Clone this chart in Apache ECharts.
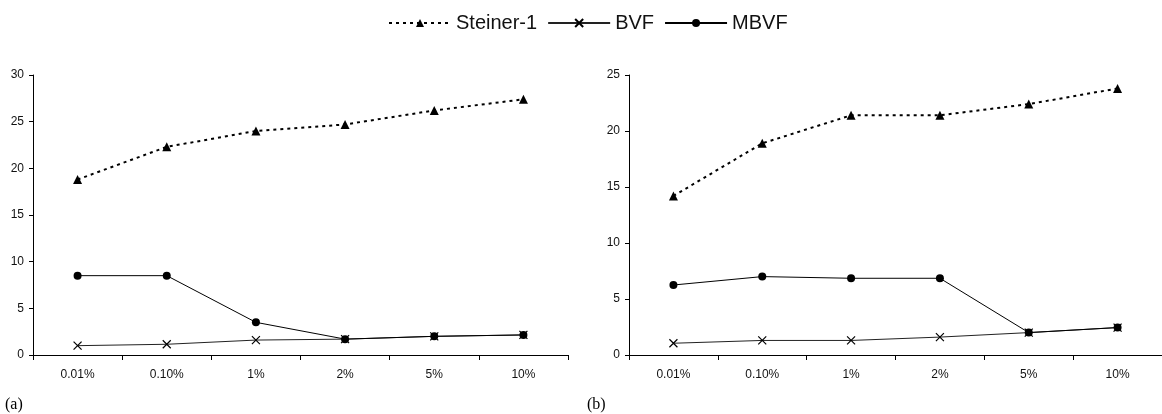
<!DOCTYPE html>
<html>
<head>
<meta charset="utf-8">
<script src="https://cdn.jsdelivr.net/npm/echarts@6/dist/echarts.min.js"></script>
<style>
html,body{margin:0;padding:0;background:#fff;}
#chart{width:1162px;height:414px;}
</style>
</head>
<body>
<div id="chart"></div>
<script>
const categories = ['0.01%', '0.10%', '1%', '2%', '5%', '10%'];
const seriesNames = ['Steiner-1', 'BVF', 'MBVF'];
const steinerA = [18.8, 22.3, 24.0, 24.7, 26.2, 27.4];
const bvfA = [1.0, 1.15, 1.6, 1.7, 2.0, 2.15];
const mbvfA = [8.5, 8.5, 3.5, 1.7, 2.0, 2.15];
const steinerB = [14.2, 18.9, 21.4, 21.4, 22.4, 23.8];
const bvfB = [1.05, 1.3, 1.3, 1.6, 2.0, 2.45];
const mbvfB = [6.25, 7.0, 6.85, 6.85, 2.0, 2.45];
const yMaxA = 30, yMaxB = 25, yStep = 5;
const panelLabels = ['(a)', '(b)'];

const FONT = "'Liberation Sans', Arial, sans-serif";
const X_PATH = 'path://M0,0L10,10M10,0L0,10';
const txt = '#111';

function xAxis(gi) {
  return {
    type: 'category', gridIndex: gi, data: categories, boundaryGap: true,
    axisLine: { lineStyle: { color: '#000', width: 1 } },
    axisTick: { show: true, length: 5, lineStyle: { color: '#000' } },
    axisLabel: { color: txt, fontFamily: FONT, fontSize: 12, margin: 14 },
    splitLine: { show: false }
  };
}
function yAxis(gi, max) {
  return {
    type: 'value', gridIndex: gi, min: 0, max: max, interval: yStep,
    axisLine: { show: true, lineStyle: { color: '#000', width: 1 } },
    axisTick: { show: true, length: 4, lineStyle: { color: '#000' } },
    axisLabel: { color: txt, fontFamily: FONT, fontSize: 12, margin: 9 },
    splitLine: { show: false }
  };
}
function steiner(gi, data) {
  return {
    name: seriesNames[0], type: 'line', xAxisIndex: gi, yAxisIndex: gi, data: data,
    symbol: 'triangle', symbolSize: 9, showSymbol: true,
    lineStyle: { color: '#000', width: 2, type: [3, 4] },
    itemStyle: { color: '#000' }, z: 3, animation: false
  };
}
function bvf(gi, data) {
  return {
    name: seriesNames[1], type: 'line', xAxisIndex: gi, yAxisIndex: gi, data: data,
    symbol: X_PATH, symbolSize: 8, showSymbol: true,
    lineStyle: { color: '#222', width: 1 },
    itemStyle: { color: '#000', borderColor: '#000', borderWidth: 1.2 }, z: 2, animation: false
  };
}
function mbvf(gi, data) {
  return {
    name: seriesNames[2], type: 'line', xAxisIndex: gi, yAxisIndex: gi, data: data,
    symbol: 'circle', symbolSize: 8, showSymbol: true,
    lineStyle: { color: '#000', width: 1 },
    itemStyle: { color: '#000' }, z: 2, animation: false
  };
}

const chart = echarts.init(document.getElementById('chart'), null, { renderer: 'canvas' });
chart.setOption({
  backgroundColor: '#fff',
  animation: false,
  legend: {
    data: seriesNames, left: 383, top: 8,
    itemWidth: 62, itemHeight: 10, itemGap: 10,
    textStyle: { color: txt, fontFamily: FONT, fontSize: 20 },
    selectedMode: false
  },
  title: [
    { text: panelLabels[0], left: 0, top: 392, textStyle: { fontFamily: "'Liberation Serif', 'Times New Roman', serif", fontSize: 16, fontWeight: 'normal', color: '#000' } },
    { text: panelLabels[1], left: 582, top: 392, textStyle: { fontFamily: "'Liberation Serif', 'Times New Roman', serif", fontSize: 16, fontWeight: 'normal', color: '#000' } }
  ],
  grid: [
    { left: 33, top: 75, width: 535, height: 280 },
    { left: 629, top: 75, width: 534, height: 280 }
  ],
  xAxis: [xAxis(0), xAxis(1)],
  yAxis: [yAxis(0, yMaxA), yAxis(1, yMaxB)],
  series: [
    steiner(0, steinerA), bvf(0, bvfA), mbvf(0, mbvfA),
    steiner(1, steinerB), bvf(1, bvfB), mbvf(1, mbvfB)
  ]
});
</script>
</body>
</html>
